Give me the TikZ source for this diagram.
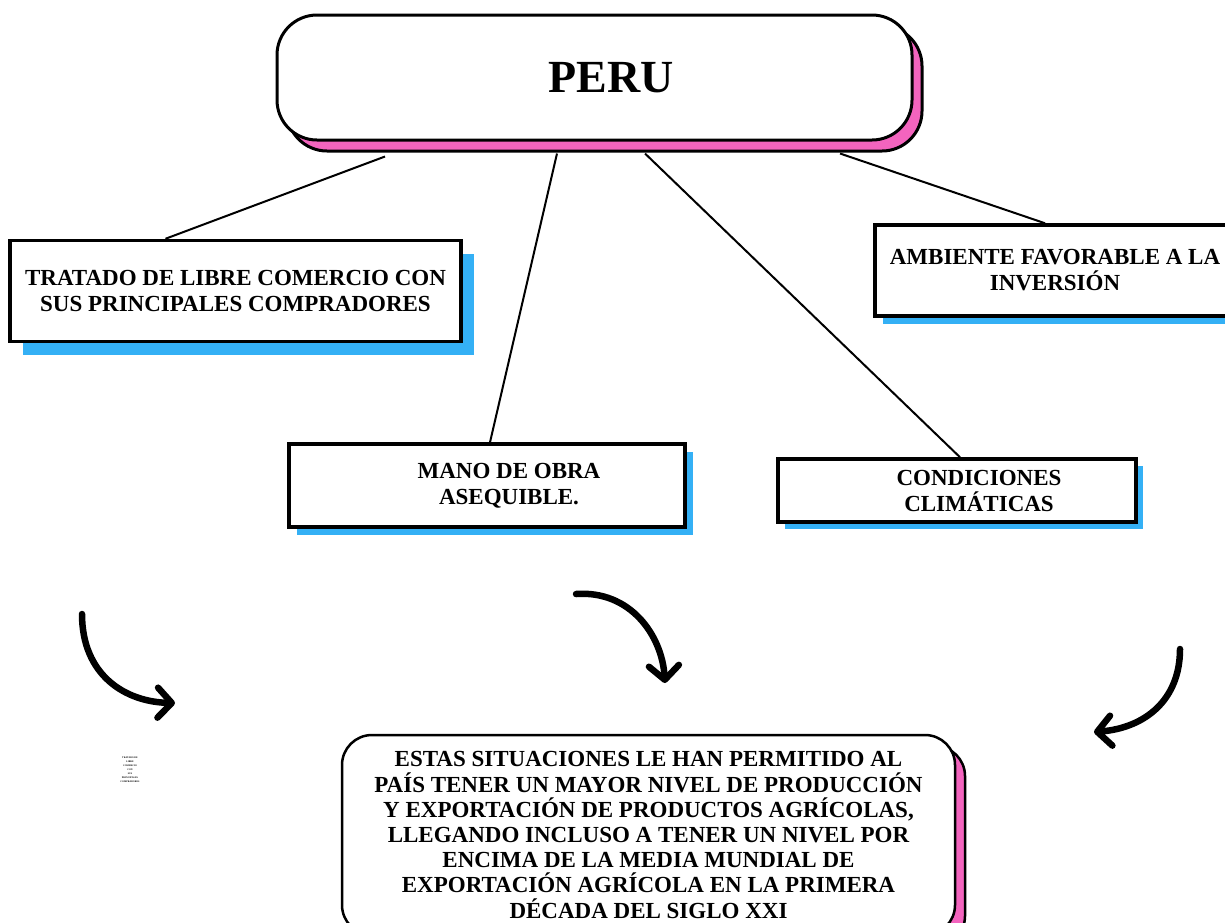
\documentclass[tikz,border=0pt]{standalone}
\usepackage{fontspec}
\setmainfont{Liberation Serif}
\usetikzlibrary{positioning,shadows,arrows.meta}
\definecolor{rosa}{HTML}{F364BE}
\definecolor{celeste}{HTML}{34B0F5}

\begin{document}
\begin{tikzpicture}[x=1pt, y=-1pt,
  box/.style={draw=black, line width=3.5pt, fill=white, align=center,
    font=\fontsize{23}{26}\selectfont\bfseries,
    drop shadow={shadow xshift=#1, shadow yshift=-#1, fill=celeste, draw=none, opacity=1}},
  box/.default=8pt,
  redondo/.style={draw=black, line width=#1, fill=white, align=center,
    drop shadow={shadow xshift=10pt, shadow yshift=-11pt, fill=rosa, draw=black, opacity=1}},
  flecha/.style={line width=6.5pt, line cap=round, -{Straight Barb[length=14pt, width=30pt, round]}}]

  \clip (0,0) rectangle (1225,922);

  % central node
  \node[redondo=3pt, rounded corners=40pt, minimum width=635pt, minimum height=125pt,
        font=\fontsize{46}{50}\selectfont\bfseries] (peru) at (594.5,77.5) {\hspace*{33pt}PERU};

  % the four factors
  \node[box=13pt, minimum width=451pt, minimum height=101pt] (tlc) at (235.5,291)
    {TRATADO DE LIBRE COMERCIO CON\\SUS PRINCIPALES COMPRADORES};
  \node[box, minimum width=360pt, minimum height=91pt] (amb) at (1055,270.5)
    {AMBIENTE FAVORABLE A LA\\INVERSIÓN};
  \node[box, minimum width=396pt, minimum height=83pt] (mano) at (487,485.5)
    {\hspace*{44pt}MANO DE OBRA\\\hspace*{44pt}ASEQUIBLE.};
  \node[box=7pt, minimum width=358pt, minimum height=63pt] (clima) at (957,490.5)
    {\hspace*{44pt}CONDICIONES\\\hspace*{44pt}CLIMÁTICAS};

  \draw[line width=2pt] ([xshift=-209.5pt, yshift=-15pt]peru.south) -- ([xshift=-70pt]tlc.north);
  \draw[line width=2pt] ([xshift=-37.5pt, yshift=-12pt]peru.south) -- ([xshift=3pt]mano.north);
  \draw[line width=2pt] ([xshift=50.5pt, yshift=-12pt]peru.south) -- ([xshift=3pt]clima.north);
  \draw[line width=2pt] ([xshift=245.5pt, yshift=-12pt]peru.south) -- ([xshift=-10pt]amb.north);

  % result
  \node[redondo=2.5pt, rounded corners=30pt, minimum width=613pt, minimum height=200pt,
        font=\fontsize{23}{25.2}\selectfont\bfseries] (res) at (648.5,835)
    {ESTAS SITUACIONES LE HAN PERMITIDO AL\\
     PAÍS TENER UN MAYOR NIVEL DE PRODUCCIÓN\\
     Y EXPORTACIÓN DE PRODUCTOS AGRÍCOLAS,\\
     LLEGANDO INCLUSO A TENER UN NIVEL POR\\
     ENCIMA DE LA MEDIA MUNDIAL DE\\
     EXPORTACIÓN AGRÍCOLA EN LA PRIMERA\\
     DÉCADA DEL SIGLO XXI};

  \node[align=center, inner sep=0pt, font=\fontsize{2.4}{4}\selectfont\bfseries] (nota) at (130,770)
    {TRATADO DE\\LIBRE\\COMERCIO\\CON\\SUS\\PRINCIPALES\\COMPRADORES};

  % curved arrows
  \coordinate (a1) at (82,614);
  \coordinate (b1) at (175,703);
  \coordinate (a2) at (576,594);
  \coordinate (b2) at (665,683);
  \coordinate (a3) at (1180,649);
  \coordinate (b3) at (1094,732);
  \draw[flecha] (a1) .. controls (82,675) and (125,702) .. (b1);
  \draw[flecha] (a2) .. controls (630,590) and (662,635) .. (b2);
  \draw[flecha] (a3) .. controls (1180,700) and (1145,728) .. (b3);

\end{tikzpicture}
\end{document}
